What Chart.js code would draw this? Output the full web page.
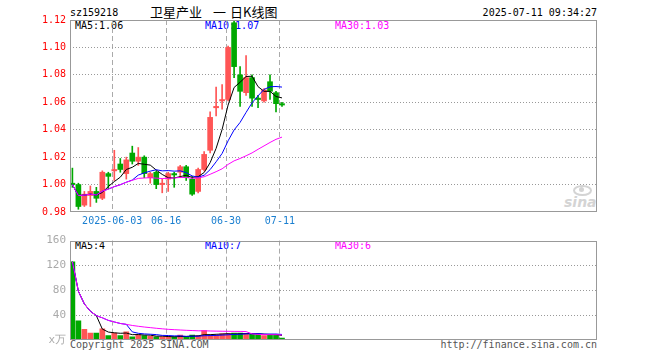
<!DOCTYPE html>
<html><head><meta charset="utf-8">
<script src="https://cdn.jsdelivr.net/npm/chart.js@4/dist/chart.umd.min.js"></script>
<style>
body{margin:0;background:#fff;width:660px;height:360px;overflow:hidden;position:relative;font-family:"DejaVu Sans Mono",monospace;}
.t{position:absolute;font-size:10px;line-height:10px;white-space:pre;font-family:"DejaVu Sans Mono",monospace;z-index:0;}
.c{position:absolute;top:5px;font-size:13px;line-height:14px;font-family:'Noto Sans CJK SC',sans-serif;color:#000;white-space:pre;}
canvas{position:absolute;left:0;z-index:1;}
#main{top:0;}
#vol{top:230px;}
.eye{position:absolute;left:573px;top:185px;width:15px;height:7px;border:2px solid #d4d4d4;border-radius:50%;z-index:0;}
.pupil{position:absolute;left:579px;top:187px;width:5px;height:5px;background:#d4d4d4;border-radius:50%;z-index:0;}
</style></head><body>
<canvas id="main" width="660" height="230"></canvas>
<canvas id="vol" width="660" height="130"></canvas>
<div class="t" style="left:70px;top:8px;color:#000">sz159218</div>
<div class="c" style="left:150px">卫星产业</div>
<div class="c" style="left:213px">一</div>
<div class="c" style="left:230px">日K线图</div>
<div class="t" style="right:63px;top:8px;color:#000">2025-07-11 09:34:27</div>
<div class="t" style="left:75px;top:21px;color:#000">MA5:1.06</div>
<div class="t" style="left:205px;top:21px;color:#0000ff">MA10:1.07</div>
<div class="t" style="left:335px;top:21px;color:#ff00ff">MA30:1.03</div>
<div class="t" style="left:75px;top:241px;color:#000">MA5:4</div>
<div class="t" style="left:205px;top:241px;color:#0000ff">MA10:7</div>
<div class="t" style="left:335px;top:241px;color:#ff00ff">MA30:6</div>
<div class="t" style="left:70px;top:340px;color:#555">Copyright 2025 SINA.COM</div>
<div class="t" style="right:63px;top:340px;color:#555">http://finance.sina.com.cn</div>
<div class="eye"></div><div class="pupil"></div>
<div class="t" style="left:564px;top:195px;font-size:14px;line-height:14px;font-family:'DejaVu Sans',sans-serif;font-weight:bold;font-style:italic;color:#d4d4d4">sina</div>
<script>
// ---- data ----
const dates = ["05-22","05-23","05-26","05-27","05-28","05-29","05-30","06-03","06-04","06-05","06-06","06-09","06-10","06-11","06-12","06-13","06-16","06-17","06-18","06-19","06-20","06-23","06-24","06-25","06-26","06-27","06-30","07-01","07-02","07-03","07-04","07-07","07-08","07-09","07-10","07-11"];
const opens  = [1.001,1.000,0.985,0.992,0.995,0.990,1.008,1.010,1.015,1.008,1.023,1.017,1.020,1.005,1.009,1.000,1.004,1.008,1.009,1.013,1.004,0.995,1.011,1.025,1.056,1.061,1.062,1.118,1.080,1.067,1.078,1.063,1.061,1.075,1.067,1.059];
const highs  = [1.012,1.001,0.995,0.999,0.998,1.010,1.009,1.025,1.019,1.020,1.028,1.027,1.021,1.009,1.010,1.004,1.009,1.009,1.014,1.014,1.006,1.012,1.024,1.053,1.071,1.073,1.101,1.120,1.086,1.094,1.080,1.065,1.070,1.080,1.068,1.060];
const lows   = [0.998,0.982,0.984,0.984,0.987,0.989,0.997,1.003,1.009,1.004,1.015,1.014,1.005,1.001,0.997,0.994,0.995,0.998,1.005,1.003,0.992,0.994,1.010,1.023,1.050,1.055,1.061,1.078,1.057,1.065,1.057,1.056,1.060,1.062,1.053,1.057];
const closes = [1.000,0.984,0.993,0.995,0.990,1.009,1.006,1.011,1.011,1.018,1.017,1.020,1.008,1.008,1.000,1.001,1.008,1.007,1.013,1.005,0.993,1.011,1.022,1.049,1.057,1.062,1.100,1.086,1.068,1.078,1.063,1.062,1.069,1.068,1.059,1.058];
const ma5  = [1.000,0.992,0.9923,0.993,0.9924,0.9942,0.9986,1.0022,1.0054,1.0110,1.0126,1.0154,1.0148,1.0142,1.0106,1.0074,1.0050,1.0048,1.0058,1.0068,1.0052,1.0058,1.0088,1.0160,1.0264,1.0402,1.0580,1.0708,1.0746,1.0788,1.0790,1.0714,1.0680,1.0680,1.0642,1.0632];
const ma10 = [1.000,0.992,0.9923,0.993,0.9924,0.9952,0.9967,0.9985,0.9999,1.0017,1.0033,1.0069,1.0085,1.0098,1.0108,1.0100,1.0102,1.0098,1.0100,1.0087,1.0063,1.0054,1.0068,1.0109,1.0166,1.0227,1.0319,1.0398,1.0453,1.0526,1.0596,1.0647,1.0694,1.0713,1.0715,1.0711];
const ma30 = [1.000,0.992,0.9923,0.993,0.9924,0.9952,0.9967,0.9985,0.9999,1.0017,1.0031,1.0045,1.0048,1.0050,1.0047,1.0044,1.0046,1.0048,1.0052,1.0052,1.0046,1.0049,1.0057,1.0075,1.0094,1.0115,1.0147,1.0173,1.0190,1.0210,1.0231,1.0257,1.0282,1.0307,1.0330,1.0346];
const volumes = [126,31,17,11,11,18,7,11,7,13,5,8,7,6,5,5,5,5,8,5,8,7,15,8,8,10,10,11,11,10,10,9,7,9,9,3];
const vma5  = [126,78.5,58,46.3,39.2,17.6,12.8,11.6,10.8,11.2,8.6,8.8,8,7.8,6.2,6.2,5.6,5.2,5.6,5.6,6.2,6.6,8.6,8.6,9.2,9.6,10.2,9.4,10,10.4,10.4,10.2,9.4,9,8.8,7.4];
const vma10 = [126,78.5,58,46.3,39.2,35.7,31.6,29,26.6,25.2,13.1,10.8,9.8,9.3,8.7,7.4,7.2,6.6,6.7,5.9,6.2,6.1,6.9,7.1,7.4,7.9,8.4,9,9.3,9.8,10,10.2,9.4,9.5,9.6,8.9];
const vma30 = [126,78.5,58,46.3,39.2,35.7,31.6,29,26.6,25.2,23.4,22.1,20.9,19.9,18.9,18,17.2,16.6,16.1,15.6,15.2,14.8,14.8,14.5,14.3,14.1,14,13.9,13.8,13.6,9.8,9,8.7,8.6,8.6,8.1];
const tickIndex  = [7,16,26,35];
const tickLabels = ["2025-06-03","06-16","06-30","07-11"];
const priceTicks = [0.98,1.00,1.02,1.04,1.06,1.08,1.10,1.12];
const volTicks = [0,40,80,120,160];
const SLOTS = 88;

// ---- styling ----
const RED = '#ff5555', GREEN = '#00a800';
const GRID_SHIFT = -0.35;   // dashed date lines sit slightly left of the candle centre
const idx = dates.map((d,i)=>i);
const colors = idx.map(i => closes[i] >= opens[i] ? RED : GREEN);
const mono = {family:'DejaVu Sans Mono', size:10};

const boxPlugin = {
  id:'box',
  afterDraw(chart){
    const a = chart.chartArea, c = chart.ctx;
    c.save(); c.strokeStyle = '#999'; c.lineWidth = 1;
    c.strokeRect(Math.round(a.left)+0.5, Math.round(a.top)+0.5, Math.round(a.right-a.left)-1, Math.round(a.bottom-a.top)-1);
    c.restore();
  }
};

function lineDS(arr, color, order){
  return {type:'line', data: idx.map(i=>({x:i, y:arr[i]})), borderColor:color, borderWidth:1,
          pointRadius:0, tension:0, order:order};
}

function xScale(showLabels){
  return {
    type:'linear', min:-0.4, max:SLOTS-0.4, offset:false,
    afterBuildTicks(s){ s.ticks = tickIndex.map(v=>({value:v+GRID_SHIFT})); },
    afterFit(s){ s.height = showLabels ? 18 : 20; },
    grid:{color:'#aaa', lineWidth:1, drawTicks:false, offset:false},
    border:{display:false, dash:[5,3]},
    ticks:{display:showLabels, autoSkip:false, maxRotation:0, padding:3, color:'#1a7fd0', font:mono,
           callback(v){ const k = tickIndex.findIndex(t => Math.abs(t+GRID_SHIFT-v) < 1e-6); return k>=0 ? tickLabels[k] : ''; }}
  };
}

new Chart(document.getElementById('main'), {
  type:'bar',
  data:{datasets:[
    lineDS(ma30,'#ff00ff',0),
    lineDS(ma10,'#0000ff',1),
    lineDS(ma5,'#000000',2),
    {type:'bar', data: idx.map(i=>({x:i, y:[opens[i], closes[i]]})), backgroundColor:colors,
     barThickness:5, minBarLength:1, grouped:false, order:3},
    {type:'bar', data: idx.map(i=>({x:i, y:[lows[i], highs[i]]})), backgroundColor:colors,
     barThickness:1, grouped:false, order:4}
  ]},
  options:{
    responsive:false, animation:false, devicePixelRatio:1,
    layout:{padding:{left:0, top:20, right:63, bottom:0}},
    plugins:{legend:{display:false}, tooltip:{enabled:false}},
    scales:{
      x: xScale(true),
      y:{
        min:priceTicks[0], max:priceTicks[priceTicks.length-1],
        afterBuildTicks(s){ s.ticks = priceTicks.map(v=>({value:v})); },
        afterFit(s){ s.width = 70; },
        grid:{drawTicks:false, color(ctx){ const v = ctx.tick && ctx.tick.value; return (v===priceTicks[0]||v===priceTicks[priceTicks.length-1]) ? 'rgba(0,0,0,0)' : '#999'; }},
        border:{display:false, dash:[1,2]},
        ticks:{padding:4, color:'#ff0000', font:mono, callback(v){ return Number(v).toFixed(2); }}
      }
    }
  },
  plugins:[boxPlugin]
});

new Chart(document.getElementById('vol'), {
  type:'bar',
  data:{datasets:[
    lineDS(vma30,'#ff00ff',0),
    lineDS(vma10,'#0000ff',1),
    lineDS(vma5,'#000000',2),
    {type:'bar', data: idx.map(i=>({x:i, y:volumes[i]})), backgroundColor:colors,
     barThickness:5, grouped:false, order:3}
  ]},
  options:{
    responsive:false, animation:false, devicePixelRatio:1,
    layout:{padding:{left:0, top:10, right:63, bottom:0}},
    plugins:{legend:{display:false}, tooltip:{enabled:false}},
    scales:{
      x: xScale(false),
      y:{
        min:volTicks[0], max:volTicks[volTicks.length-1],
        afterBuildTicks(s){ s.ticks = volTicks.map(v=>({value:v})); },
        afterFit(s){ s.width = 70; },
        grid:{drawTicks:false, color(ctx){ const v = ctx.tick && ctx.tick.value; return (v===volTicks[0]||v===volTicks[volTicks.length-1]) ? 'rgba(0,0,0,0)' : '#999'; }},
        border:{display:false, dash:[1,2]},
        ticks:{padding:4, color:'#aaa', font:{family:'DejaVu Sans Mono', size:11},
               callback(v){ return v===0 ? 'x万' : String(v); }}
      }
    }
  },
  plugins:[boxPlugin]
});
</script>
</body></html>
